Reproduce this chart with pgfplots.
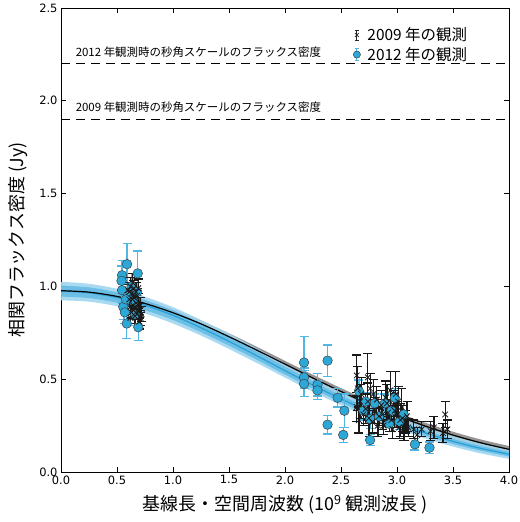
\documentclass[border=0pt]{standalone}
\usepackage{fontspec}
\setmainfont{DejaVu Sans}
\newfontfamily\jp{Noto Sans CJK JP}
\usepackage{pgfplots}
\usepackage{pgfplotstable}
\pgfplotsset{compat=1.18}
\usepgfplotslibrary{fillbetween}
\definecolor{bfill}{RGB}{44,168,216}
\definecolor{berr}{RGB}{80,182,230}
\definecolor{bandout}{RGB}{160,214,240}
\definecolor{bandin}{RGB}{95,185,228}
\definecolor{bline}{RGB}{40,160,215}
\definecolor{gband}{RGB}{130,130,130}

\pgfplotstableread{
x    blk   blkhi blklo blu   ohi   olo   ihi   ilo
0.00 0.977 0.995 0.959 0.975 1.025 0.925 1.005 0.945
0.25 0.969 0.987 0.951 0.966 1.014 0.918 0.995 0.937
0.50 0.946 0.964 0.928 0.940 0.987 0.893 0.968 0.912
0.75 0.908 0.926 0.890 0.899 0.944 0.854 0.926 0.872
1.00 0.858 0.876 0.840 0.844 0.888 0.800 0.870 0.819
1.25 0.798 0.816 0.780 0.777 0.819 0.735 0.801 0.753
1.50 0.729 0.747 0.711 0.704 0.745 0.663 0.727 0.681
1.75 0.656 0.674 0.638 0.626 0.665 0.587 0.648 0.604
2.00 0.581 0.599 0.563 0.546 0.584 0.509 0.567 0.525
2.25 0.506 0.524 0.488 0.468 0.504 0.432 0.488 0.448
2.50 0.434 0.452 0.416 0.394 0.428 0.360 0.413 0.375
2.75 0.366 0.384 0.348 0.326 0.359 0.293 0.344 0.308
3.00 0.304 0.322 0.286 0.265 0.296 0.234 0.282 0.249
3.25 0.248 0.266 0.230 0.211 0.241 0.181 0.226 0.196
3.50 0.199 0.217 0.181 0.165 0.193 0.137 0.179 0.151
3.75 0.157 0.175 0.139 0.127 0.154 0.100 0.140 0.114
4.00 0.122 0.140 0.104 0.096 0.121 0.071 0.108 0.084
}\model

\pgfplotstableread{
x     y     e
0.590 1.120 0.110
0.545 1.060 0.080
0.540 1.030 0.080
0.545 0.980 0.070
0.685 1.070 0.120
0.556 0.890 0.070
0.587 0.800 0.080
0.690 0.780 0.070
0.600 0.950 0.060
0.650 0.920 0.060
0.630 1.000 0.070
0.570 0.860 0.060
0.660 0.850 0.060
0.680 0.970 0.070
0.580 0.930 0.060
2.170 0.590 0.140
2.170 0.510 0.050
2.170 0.475 0.070
2.380 0.600 0.085
2.290 0.470 0.060
2.290 0.440 0.050
2.470 0.400 0.050
2.380 0.255 0.050
2.530 0.330 0.090
2.520 0.200 0.040
2.760 0.172 0.030
2.760 0.285 0.050
2.660 0.436 0.060
2.800 0.370 0.050
2.890 0.370 0.050
2.980 0.400 0.050
3.160 0.149 0.030
3.290 0.131 0.030
2.700 0.330 0.050
2.840 0.300 0.050
2.930 0.260 0.040
3.020 0.270 0.040
3.060 0.310 0.050
2.720 0.380 0.050
2.950 0.330 0.050
}\obstwelve

\pgfplotstableread{
x     y     e
0.60 0.98 0.04
0.61 0.93 0.04
0.62 1.00 0.05
0.63 0.96 0.04
0.64 0.90 0.03
0.65 0.94 0.04
0.66 0.88 0.04
0.67 0.97 0.05
0.68 0.85 0.03
0.69 0.92 0.04
0.70 0.87 0.04
0.71 0.83 0.04
0.62 0.89 0.03
0.64 1.02 0.05
0.66 0.84 0.04
0.68 0.95 0.04
0.70 0.81 0.04
0.63 0.86 0.03
0.67 0.91 0.03
0.69 0.99 0.05
0.61 0.97 0.04
0.65 0.99 0.04
0.67 0.86 0.04
0.71 0.90 0.04
0.72 0.85 0.04
0.64 0.93 0.04
0.66 0.95 0.04
0.62 0.83 0.03
2.64 0.52 0.11
2.64 0.35 0.08
2.65 0.45 0.12
2.66 0.28 0.07
2.67 0.38 0.09
2.68 0.42 0.09
2.70 0.31 0.06
2.72 0.34 0.08
2.74 0.51 0.13
2.74 0.38 0.10
2.75 0.29 0.10
2.76 0.45 0.08
2.78 0.27 0.06
2.79 0.42 0.08
2.80 0.33 0.07
2.82 0.39 0.07
2.83 0.25 0.06
2.84 0.30 0.05
2.86 0.36 0.08
2.87 0.31 0.08
2.88 0.25 0.05
2.90 0.40 0.09
2.91 0.37 0.10
2.92 0.32 0.07
2.93 0.29 0.07
2.94 0.44 0.10
2.95 0.28 0.06
2.96 0.23 0.05
2.97 0.36 0.08
2.98 0.33 0.09
2.99 0.42 0.12
3.00 0.31 0.07
3.01 0.38 0.08
3.02 0.24 0.06
3.03 0.28 0.09
3.04 0.35 0.10
3.05 0.29 0.07
3.06 0.24 0.07
3.07 0.22 0.05
3.08 0.27 0.06
3.09 0.30 0.08
3.10 0.24 0.05
3.15 0.23 0.05
3.18 0.20 0.04
3.22 0.23 0.04
3.30 0.22 0.05
3.33 0.24 0.06
3.41 0.21 0.05
3.43 0.31 0.07
3.45 0.23 0.05
}\obsnine

\begin{document}
\begin{tikzpicture}
\begin{axis}[
  name=ax,
  scale only axis,
  width=448bp, height=464bp,
  xmin=0, xmax=4, ymin=0, ymax=2.5,
  xtick={0,0.5,...,4}, ytick={0,0.5,...,2.5},
  tick pos=both, xticklabel pos=lower, yticklabel pos=left,
  tick align=inside, major tick length=5bp,
  every tick/.style={black, line width=0.6bp},
  axis line style={black, line width=0.9bp},
  /pgf/number format/assume math mode=true,
  /pgf/number format/fixed, /pgf/number format/fixed zerofill,
  /pgf/number format/precision=1,
  ticklabel style={font=\fontsize{11.5}{13}\selectfont},
  xlabel={\jp 基線長・空間周波数 (10\textsuperscript{9} 観測波長 )},
  ylabel={\jp 相関フラックス密度 (Jy)},
  label style={font=\fontsize{18}{20}\selectfont},
  xlabel shift=4bp, ylabel shift=5bp,
  legend style={at={(0.652,0.962)}, anchor=north west, draw=none, fill=none,
    font=\jp\fontsize{15.5}{18}\selectfont, row sep=1bp, column sep=5bp, inner sep=0pt},
  legend cell align=left,
  clip=true,
]
% bands
\addplot[name path=gh, draw=none, forget plot, smooth] table[x=x,y=blkhi]{\model};
\addplot[name path=gl, draw=none, forget plot, smooth] table[x=x,y=blklo]{\model};
\addplot[gband, fill opacity=0.85, forget plot] fill between[of=gh and gl];
\addplot[name path=oh, draw=none, forget plot, smooth] table[x=x,y=ohi]{\model};
\addplot[name path=ol, draw=none, forget plot, smooth] table[x=x,y=olo]{\model};
\addplot[bandout, fill opacity=0.9, forget plot] fill between[of=oh and ol];
\addplot[name path=ih, draw=none, forget plot, smooth] table[x=x,y=ihi]{\model};
\addplot[name path=il, draw=none, forget plot, smooth] table[x=x,y=ilo]{\model};
\addplot[bandin, fill opacity=0.8, forget plot] fill between[of=ih and il];
\addplot[bline, line width=1.2bp, smooth, forget plot] table[x=x,y=blu]{\model};
\addplot[black, line width=1.2bp, smooth, forget plot] table[x=x,y=blk]{\model};
% dashed lines
\addplot[black, line width=1.1bp, dash pattern=on 9bp off 6bp, forget plot] coordinates {(0,2.2) (4,2.2)};
\addplot[black, line width=1.1bp, dash pattern=on 9bp off 6bp, forget plot] coordinates {(0,1.9) (4,1.9)};
% 2012 observations
\addplot[forget plot, only marks, mark=*, mark size=4.8bp,
  mark options={fill=bfill, draw=black!75, line width=0.5bp},
  error bars/.cd, y dir=both, y explicit,
  error bar style={berr, line width=1.3bp},
  error mark options={rotate=90, berr, mark size=4.5bp, line width=1.3bp}]
  table[x=x, y=y, y error=e]{\obstwelve};
% 2009 observations
\addplot[forget plot, only marks, mark=x, mark size=4bp,
  mark options={black!90, line width=0.8bp},
  error bars/.cd, y dir=both, y explicit,
  error bar style={black!90, line width=1.2bp},
  error mark options={rotate=90, black!90, mark size=4.5bp, line width=1.2bp}]
  table[x=x, y=y, y error=e]{\obsnine};
% legend
\addlegendimage{legend image code/.code={
  \draw[black!85, line width=0.8bp] (0.3cm,-5bp)--(0.3cm,5bp) (0.22cm,-5bp)--(0.38cm,-5bp) (0.22cm,5bp)--(0.38cm,5bp);
  \draw[black!85, line width=0.7bp] plot[only marks, mark=x, mark size=2.8bp] coordinates {(0.3cm,0cm)};
}}
\addlegendentry{2009 年の観測}
\addlegendimage{legend image code/.code={
  \draw[berr, line width=1.0bp] (0.3cm,-6bp)--(0.3cm,6bp) (0.22cm,-6bp)--(0.38cm,-6bp) (0.22cm,6bp)--(0.38cm,6bp);
  \draw plot[only marks, mark=*, mark size=3.6bp, mark options={fill=bfill, draw=black!75, line width=0.5bp}] coordinates {(0.3cm,0cm)};
}}
\addlegendentry{2012 年の観測}
% annotations
\node[anchor=west, font=\jp\fontsize{11.5}{13}\selectfont, inner sep=0pt] at (axis cs:0.13,2.263) {2012 年観測時の秒角スケールのフラックス密度};
\node[anchor=west, font=\jp\fontsize{11.5}{13}\selectfont, inner sep=0pt] at (axis cs:0.13,1.967) {2009 年観測時の秒角スケールのフラックス密度};
\end{axis}
\pgfresetboundingbox
\path (ax.south west) ++(-61bp,-50bp);
\path (ax.north east) ++(11bp,8bp);
\end{tikzpicture}
\end{document}
